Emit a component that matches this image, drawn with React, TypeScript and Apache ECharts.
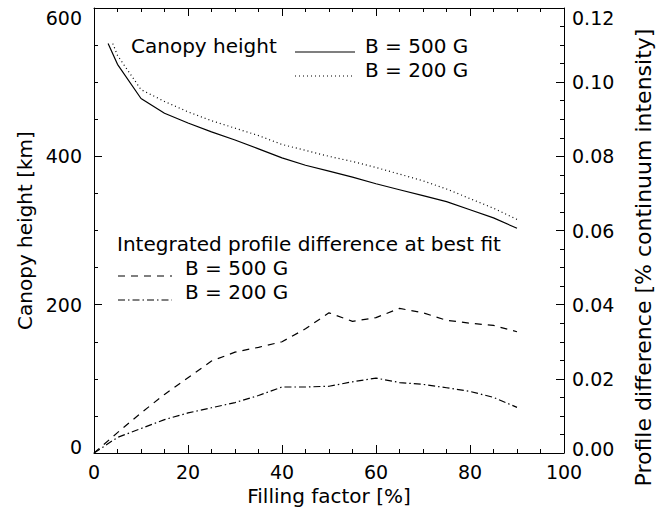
import React, { useEffect, useRef } from "react";
import * as echarts from "echarts";

// Canopy height [km] vs filling factor [%]
const canopy500X = [3, 5, 10, 15, 20, 25, 30, 35, 40, 45, 50, 55, 60, 65, 70, 75, 80, 85, 90];
const canopy500Y = [552, 524, 478, 458, 445, 433, 422, 410, 398, 388, 380, 372, 363, 355, 347, 339, 328, 317, 303];
const canopy200X = [4, 5, 10, 15, 20, 25, 30, 35, 40, 45, 50, 55, 60, 65, 70, 75, 80, 85, 90];
const canopy200Y = [552, 536, 490, 474, 460, 448, 438, 428, 416, 408, 400, 393, 385, 376, 367, 356, 343, 330, 315];

// Integrated profile difference [% continuum intensity]
const diffX = [0, 5, 10, 15, 20, 25, 30, 35, 40, 45, 50, 55, 60, 65, 70, 75, 80, 85, 90];
const diff500Y = [0, 0.0055, 0.0108, 0.0158, 0.0203, 0.0248, 0.0272, 0.0285, 0.0300, 0.0335, 0.0378, 0.0355, 0.0365, 0.0390, 0.0378, 0.0358, 0.0350, 0.0344, 0.0327];
const diff200Y = [0, 0.0042, 0.0066, 0.0090, 0.0108, 0.0122, 0.0136, 0.0155, 0.0178, 0.0178, 0.0180, 0.0192, 0.0202, 0.0190, 0.0185, 0.0176, 0.0166, 0.0150, 0.0123];

const leftTicks = [0, 200, 400, 600];
const rightTicks = [0, 0.02, 0.04, 0.06, 0.08, 0.1, 0.12];
const xTicks = [0, 20, 40, 60, 80, 100];

const FONT = "DejaVu Sans";
const FS = 19; // tick numbers
const TS = 20; // words

const zip = (xs: number[], ys: number[]) => xs.map((x, i) => [x, ys[i]]);

export default function App() {
  const ref = useRef<HTMLDivElement>(null);
  useEffect(() => {
    if (!ref.current) return;
    const chart = echarts.init(ref.current, undefined, { renderer: "svg" });
    const black = "#000";
    const txt = { fontFamily: FONT, fontSize: FS, color: black };
    const wtxt = { fontFamily: FONT, fontSize: TS, color: black };
    const tickCommon = {
      axisLine: { show: true, onZero: false, lineStyle: { color: black, width: 1 } },
      axisTick: { show: true, inside: true, length: 8, lineStyle: { color: black } },
      minorTick: { show: true, splitNumber: 4, length: 4, lineStyle: { color: black } },
      splitLine: { show: false },
      minorSplitLine: { show: false },
    };
    const font = `${TS}px "${FONT}"`;
    const option: any = {
      animation: false,
      backgroundColor: "#fff",
      grid: { left: 94, right: 93, top: 8, bottom: 59, containLabel: false },
      xAxis: [
        {
          type: "value",
          min: xTicks[0],
          max: xTicks[xTicks.length - 1],
          interval: 20,
          position: "bottom",
          ...tickCommon,
          axisLabel: { ...txt, margin: 9, formatter: (v: number) => String(v) },
          name: "Filling factor [%]",
          nameLocation: "middle",
          nameGap: 32,
          nameTextStyle: wtxt,
        },
        {
          type: "value",
          min: xTicks[0],
          max: xTicks[xTicks.length - 1],
          interval: 20,
          position: "top",
          ...tickCommon,
          axisLabel: { show: false },
        },
      ],
      yAxis: [
        {
          type: "value",
          min: leftTicks[0],
          max: leftTicks[leftTicks.length - 1],
          interval: 200,
          position: "left",
          ...tickCommon,
          axisLabel: {
            ...txt,
            margin: 12,
            formatter: (v: number) => (v === 600 ? "{t|600}" : v === 0 ? "{b|0}" : String(v)),
            rich: {
              t: { ...txt, padding: [20, 0, 0, 0] },
              b: { ...txt, padding: [0, 0, 12, 0] },
            },
          },
          name: "Canopy height [km]",
          nameLocation: "middle",
          nameGap: 56,
          nameTextStyle: wtxt,
        },
        {
          type: "value",
          min: rightTicks[0],
          max: rightTicks[rightTicks.length - 1],
          interval: 0.02,
          position: "right",
          ...tickCommon,
          axisLabel: {
            ...txt,
            margin: 8,
            formatter: (v: number) => {
              const s = v.toFixed(2);
              if (Math.abs(v - 0.12) < 1e-9) return "{t|" + s + "}";
              if (Math.abs(v) < 1e-9) return "{b|" + s + "}";
              return s;
            },
            rich: {
              t: { ...txt, padding: [20, 0, 0, 0] },
              b: { ...txt, padding: [0, 0, 8, 0] },
            },
          },
          name: "Profile difference [% continuum intensity]",
          nameLocation: "middle",
          nameGap: 68,
          nameTextStyle: { ...wtxt, fontSize: 22, padding: [0, 54, 0, 0] },
        },
      ],
      series: [
        {
          name: "Canopy B = 500 G",
          type: "line",
          xAxisIndex: 0,
          yAxisIndex: 0,
          data: zip(canopy500X, canopy500Y),
          showSymbol: false,
          lineStyle: { color: black, width: 1.2, type: "solid" },
        },
        {
          name: "Canopy B = 200 G",
          type: "line",
          xAxisIndex: 0,
          yAxisIndex: 0,
          data: zip(canopy200X, canopy200Y),
          showSymbol: false,
          lineStyle: { color: black, width: 1.2, type: [1, 3] },
        },
        {
          name: "Diff B = 500 G",
          type: "line",
          xAxisIndex: 0,
          yAxisIndex: 1,
          data: zip(diffX, diff500Y),
          showSymbol: false,
          lineStyle: { color: black, width: 1.2, type: [7, 6] },
        },
        {
          name: "Diff B = 200 G",
          type: "line",
          xAxisIndex: 0,
          yAxisIndex: 1,
          data: zip(diffX, diff200Y),
          showSymbol: false,
          lineStyle: { color: black, width: 1.2, type: [7, 3, 1.5, 3] },
        },
      ],
      graphic: [
        { type: "text", left: 131, top: 36, style: { text: "Canopy height", font, fill: black } },
        { type: "line", shape: { x1: 295, y1: 52, x2: 355, y2: 52 }, style: { stroke: black, lineWidth: 1.2 } },
        { type: "text", left: 365, top: 36, style: { text: "B = 500 G", font, fill: black } },
        { type: "line", shape: { x1: 295, y1: 76, x2: 355, y2: 76 }, style: { stroke: black, lineWidth: 1.2, lineDash: [1, 3] } },
        { type: "text", left: 365, top: 60, style: { text: "B = 200 G", font, fill: black } },
        { type: "text", left: 117, top: 234, style: { text: "Integrated profile difference at best fit", font, fill: black } },
        { type: "line", shape: { x1: 118, y1: 276, x2: 172, y2: 276 }, style: { stroke: black, lineWidth: 1.2, lineDash: [7, 6] } },
        { type: "text", left: 185, top: 258, style: { text: "B = 500 G", font, fill: black } },
        { type: "line", shape: { x1: 118, y1: 300, x2: 172, y2: 300 }, style: { stroke: black, lineWidth: 1.2, lineDash: [7, 3, 1.5, 3] } },
        { type: "text", left: 185, top: 282, style: { text: "B = 200 G", font, fill: black } },
      ],
    };
    chart.setOption(option);
    return () => chart.dispose();
  }, []);
  return (
    <div
      ref={ref}
      style={{ position: "fixed", left: 0, top: 0, width: 662, height: 512, background: "#fff" }}
    />
  );
}
